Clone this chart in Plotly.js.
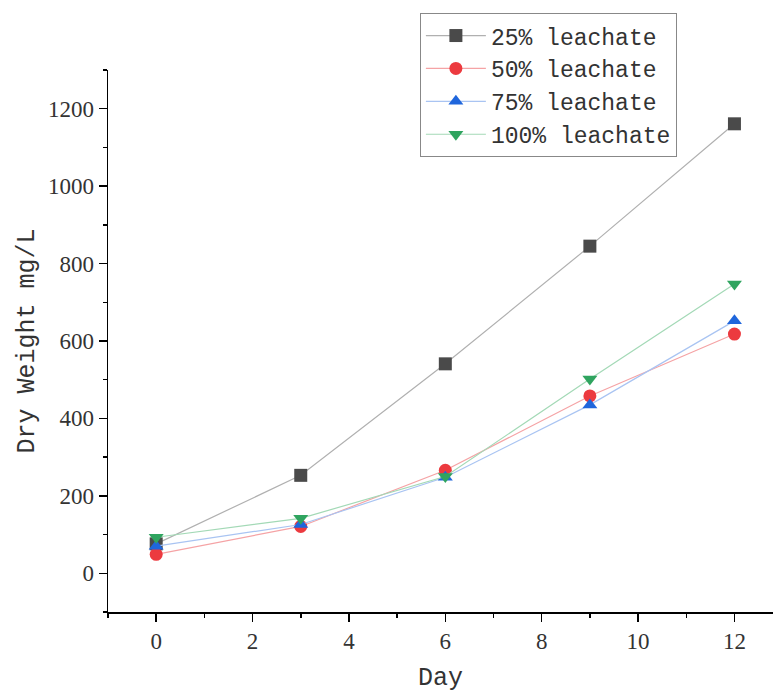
<!DOCTYPE html>
<html>
<head>
<meta charset="utf-8">
<script src="https://cdn.plot.ly/plotly-3.0.1.min.js"></script>
<style>html,body{margin:0;padding:0;overflow:hidden;background:#fff}#chart{width:773px;height:693px}</style>
</head>
<body>
<div id="chart"></div>
<script>
const days = [0, 3, 6, 9, 12];
const seriesNames = ["25% leachate", "50% leachate", "75% leachate", "100% leachate"];
const leach25 = [76, 253, 541, 845, 1161];
const leach50 = [49, 121, 266, 458, 618];
const leach75 = [70, 126, 248, 435, 652];
const leach100 = [93, 142, 250, 502, 747];
const xTicks = [0, 2, 4, 6, 8, 10, 12];
const yTicks = [0, 200, 400, 600, 800, 1000, 1200];

const styles = [
  {marker: '#4a4a4a', line: '#b0b0b0', symbol: 'square'},
  {marker: '#ec3a3f', line: '#f5a3a5', symbol: 'circle'},
  {marker: '#1f66dc', line: '#a9c4f2', symbol: 'triangle-up'},
  {marker: '#2fa45f', line: '#a3d9b6', symbol: 'triangle-down'}
];
const values = [leach25, leach50, leach75, leach100];

const traces = values.map((v, i) => ({
  x: days, y: v, name: seriesNames[i], type: 'scatter', mode: 'lines+markers',
  line: {color: styles[i].line, width: 1.2},
  marker: {color: styles[i].marker, symbol: styles[i].symbol, size: 13}
}));

const tickFont = {family: 'Liberation Serif, serif', size: 23, color: '#333'};
const titleFont = {family: 'Liberation Mono, monospace', size: 25, color: '#333'};

const layout = {
  width: 773, height: 693,
  margin: {l: 108, r: 0, t: 70, b: 81},
  paper_bgcolor: '#fff', plot_bgcolor: '#fff',
  showlegend: true,
  legend: {
    x: 0.469, y: 1.105, xanchor: 'left', yanchor: 'top',
    bgcolor: '#fff', bordercolor: '#888', borderwidth: 1,
    font: {family: 'Liberation Mono, monospace', size: 23, color: '#333'},
    itemwidth: 60,
    tracegroupgap: 0
  },
  xaxis: {
    range: [-1, 12.8], tickvals: xTicks, ticktext: xTicks.map(String),
    showgrid: false, zeroline: false, showline: true, linecolor: '#000', linewidth: 1.5,
    ticks: 'outside', ticklen: 8, tickwidth: 1.5, tickcolor: '#000',
    minor: {dtick: 1, tick0: 1, ticks: 'outside', ticklen: 4, tickwidth: 1.5, tickcolor: '#000', showgrid: false},
    tickfont: tickFont,
    title: {text: 'Day', font: titleFont, standoff: 16}
  },
  yaxis: {
    range: [-100, 1300], tickvals: yTicks, ticktext: yTicks.map(String),
    showgrid: false, zeroline: false, showline: true, linecolor: '#000', linewidth: 1.5,
    ticks: 'outside', ticklen: 8, tickwidth: 1.5, tickcolor: '#000',
    minor: {dtick: 100, tick0: 100, ticks: 'outside', ticklen: 4, tickwidth: 1.5, tickcolor: '#000', showgrid: false},
    tickfont: tickFont,
    title: {text: 'Dry Weight mg/L', font: titleFont, standoff: 6}
  }
};

Plotly.newPlot('chart', traces, layout, {displayModeBar: false, staticPlot: true});
</script>
</body>
</html>
